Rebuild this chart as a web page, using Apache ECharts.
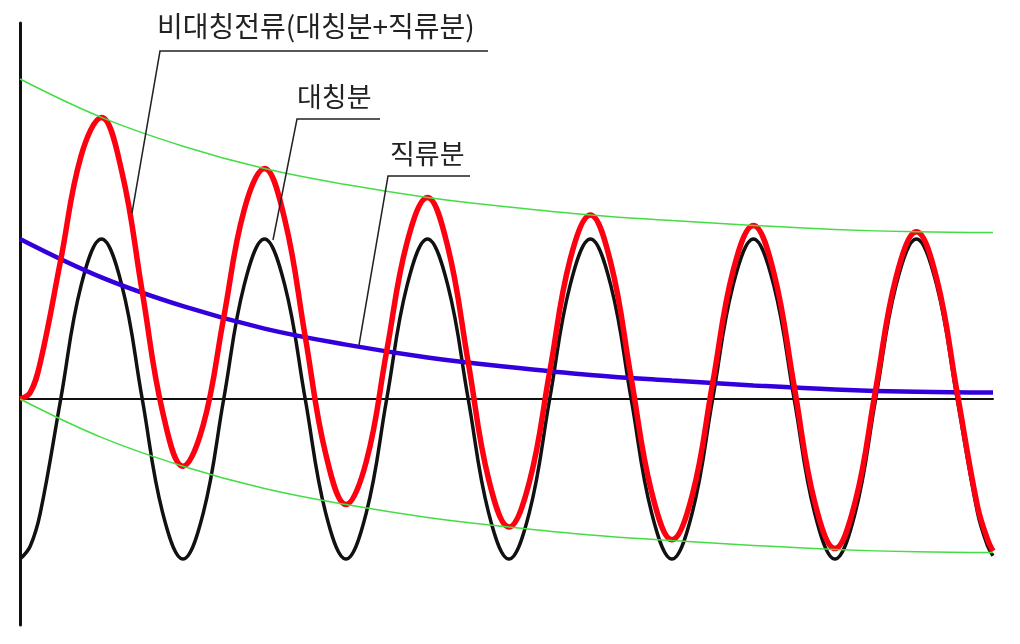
<!DOCTYPE html>
<html>
<head>
<meta charset="utf-8">
<script src="https://cdn.jsdelivr.net/npm/echarts@6/dist/echarts.min.js"></script>
<style>
html,body{margin:0;padding:0;background:#fff;}
#chart{width:1020px;height:644px;}
</style>
</head>
<body>
<div id="chart"></div>
<script>
// time in cycles, sampled every 1/8 cycle (extra samples near both ends)
const tFine = [0,0.0625,0.125,0.25,0.375,0.5,0.625,0.75,0.875,
  1,1.125,1.25,1.375,1.5,1.625,1.75,1.875,
  2,2.125,2.25,2.375,2.5,2.625,2.75,2.875,
  3,3.125,3.25,3.375,3.5,3.625,3.75,3.875,
  4,4.125,4.25,4.375,4.5,4.625,4.75,4.875,
  5,5.125,5.25,5.375,5.5,5.625,5.75,5.875,5.9375,5.97];
// 대칭분 (symmetric AC component)
const symmetric = [-1,-0.92,-0.71,0,0.71,1,0.71,0,-0.71,
  -1,-0.71,0,0.71,1,0.71,0,-0.71,
  -1,-0.71,0,0.71,1,0.71,0,-0.71,
  -1,-0.71,0,0.71,1,0.71,0,-0.71,
  -1,-0.71,0,0.71,1,0.71,0,-0.71,
  -1,-0.71,0,0.71,1,0.71,0,-0.71,-0.92,-0.98];
// 비대칭전류 (asymmetric current)
const asymmetric = [0,0.04,0.23,0.87,1.52,1.76,1.42,0.67,-0.08,
  -0.42,-0.16,0.51,1.18,1.44,1.12,0.39,-0.34,
  -0.66,-0.39,0.30,0.98,1.26,0.95,0.23,-0.50,
  -0.80,-0.52,0.17,0.87,1.15,0.85,0.13,-0.58,
  -0.88,-0.60,0.10,0.80,1.085,0.79,0.08,-0.64,
  -0.935,-0.64,0.06,0.76,1.045,0.75,0.04,-0.67,-0.88,-0.95];
// coarse time grid for the decaying curves
const tCoarse = [0,0.5,1,1.5,2,2.5,3,3.5,4,4.5,5,5.5,5.97];
// 직류분 (DC component)
const dc = [1.0,0.76,0.58,0.44,0.34,0.26,0.20,0.15,0.115,0.085,0.06,0.045,0.04];
// envelopes
const envUpper = [2.0,1.76,1.58,1.44,1.34,1.26,1.20,1.15,1.115,1.085,1.06,1.045,1.04];
const envLower = [0,-0.24,-0.42,-0.56,-0.66,-0.74,-0.80,-0.85,-0.885,-0.915,-0.94,-0.955,-0.96];

const labelMain = '비대칭전류(대칭분+직류분)';
const labelSym = '대칭분';
const labelDc = '직류분';

function pairs(xs, ys){ return xs.map((x,i)=>[x, ys[i]]); }

const chart = echarts.init(document.getElementById('chart'), null, {renderer:'canvas'});
const font = '"Noto Sans CJK KR", "Noto Sans", sans-serif';
chart.setOption({
  animation:false,
  backgroundColor:'#fff',
  grid:{left:20,right:27,top:23,bottom:19,containLabel:false},
  xAxis:{type:'value',min:0,max:5.97,
    axisLine:{show:true,onZero:true,lineStyle:{color:'#111',width:2}},
    axisTick:{show:false},axisLabel:{show:false},splitLine:{show:false}},
  yAxis:{type:'value',min:-1.4125,max:2.35,
    axisLine:{show:true,onZero:false,lineStyle:{color:'#111',width:3}},
    axisTick:{show:false},axisLabel:{show:false},splitLine:{show:false}},
  series:[
    {type:'line',name:'대칭분',data:pairs(tFine,symmetric),smooth:0.4,showSymbol:false,
      lineStyle:{color:'#111',width:3.5},z:2},
    {type:'line',name:'직류분',data:pairs(tCoarse,dc),smooth:0.4,showSymbol:false,
      lineStyle:{color:'#3300dd',width:4.5},z:3},
    {type:'line',name:'비대칭전류',data:pairs(tFine,asymmetric),smooth:0.4,showSymbol:false,
      lineStyle:{color:'#ff0010',width:5.5},z:4},
    {type:'line',name:'upper',data:pairs(tCoarse,envUpper),smooth:0.4,showSymbol:false,
      lineStyle:{color:'#44dd44',width:1.5},z:5},
    {type:'line',name:'lower',data:pairs(tCoarse,envLower),smooth:0.4,showSymbol:false,
      lineStyle:{color:'#44dd44',width:1.5},z:5}
  ],
  graphic:[
    {type:'polyline',z:100,shape:{points:[[132,213],[160,51],[488,51]]},style:{stroke:'#222',lineWidth:1.5,fill:null}},
    {type:'polyline',z:100,shape:{points:[[273,240],[297,119],[380,119]]},style:{stroke:'#222',lineWidth:1.5,fill:null}},
    {type:'polyline',z:100,shape:{points:[[359,345],[388,176],[470,176]]},style:{stroke:'#222',lineWidth:1.5,fill:null}},
    {type:'text',z:100,left:157,top:12,style:{text:labelMain,font:'28px '+font,fill:'#222'}},
    {type:'text',z:100,left:297,top:83,style:{text:labelSym,font:'27px '+font,fill:'#222'}},
    {type:'text',z:100,left:390,top:140,style:{text:labelDc,font:'27px '+font,fill:'#222'}}
  ]
});
</script>
</body>
</html>
